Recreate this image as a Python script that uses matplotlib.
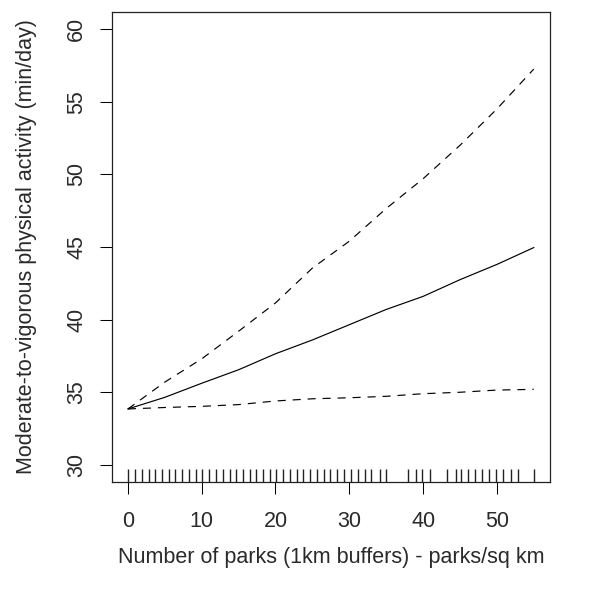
import matplotlib
matplotlib.use("Agg")
import matplotlib.pyplot as plt

plt.rcParams['font.family'] = ['Liberation Sans', 'DejaVu Sans']
plt.rcParams['lines.scale_dashes'] = False

# Smoothed fit of MVPA against park density, with pointwise confidence band
park_density = [0, 5, 10, 15, 20, 25, 30, 35, 40, 45, 50, 55]
mvpa_fit = [33.85, 34.65, 35.62, 36.55, 37.65, 38.6, 39.65, 40.7, 41.6, 42.75, 43.8, 44.96]
mvpa_upper = [33.85, 35.7, 37.3, 39.2, 41.15, 43.55, 45.4, 47.65, 49.7, 52.0, 54.5, 57.25]
mvpa_lower = [33.85, 33.95, 34.03, 34.15, 34.4, 34.55, 34.62, 34.72, 34.9, 35.0, 35.15, 35.2]

# Observed park densities (rug)
observed_density = [0, 1.0, 1.9, 2.8, 3.7, 4.6, 5.5, 6.4, 7.3, 8.3, 9.2, 10.1, 11.0,
                    11.9, 12.9, 13.8, 14.7, 15.6, 16.5, 17.4, 18.3, 19.2, 20.1, 21.0,
                    22.0, 22.9, 23.7, 24.7, 25.6, 26.6, 27.4, 28.4, 29.3, 30.2, 31.2,
                    32.1, 33.0, 34.1, 35.0, 37.9, 39.0, 39.8, 41.0, 43.3, 44.4, 45.1,
                    46.1, 47.1, 48.0, 49.0, 49.9, 50.8, 51.9, 52.9, 55.0]

x_ticks = [0, 10, 20, 30, 40, 50]
y_ticks = [30, 35, 40, 45, 50, 55, 60]

fig = plt.figure(figsize=(5.96, 5.92), dpi=100)
ax = fig.add_axes([0.1874, 0.1853, 0.9228 - 0.1874, 0.9802 - 0.1853])

dash = (0, (5.8, 5.0))
ax.plot(park_density, mvpa_fit, color='black', lw=0.85, solid_joinstyle='round')
ax.plot(park_density, mvpa_upper, color='black', lw=0.85, linestyle=dash)
ax.plot(park_density, mvpa_lower, color='black', lw=0.85, linestyle=dash)

ax.vlines(observed_density, 0, 0.028, transform=ax.get_xaxis_transform(),
          color='#222222', lw=1.0)

ax.set_xlim(-2.2, 57.2)
ax.set_ylim(28.8, 61.2)
ax.set_xticks(x_ticks)
ax.set_yticks(y_ticks)
ax.set_yticklabels([str(v) for v in y_ticks], rotation=90, va='center')

fs = 15.5
ax.tick_params(axis='both', direction='out', length=8.6, width=0.75,
               labelsize=fs, colors='black', labelcolor='#2a2a2a')
ax.tick_params(axis='x', pad=12)
ax.tick_params(axis='y', pad=9)
for s in ax.spines.values():
    s.set_linewidth(0.9)
    s.set_color('#222222')

ax.set_xlabel('Number of parks (1km buffers) - parks/sq km', fontsize=fs,
              color='#2a2a2a', labelpad=11)
ax.set_ylabel('Moderate-to-vigorous physical activity (min/day)', fontsize=fs,
              color='#2a2a2a', labelpad=21)

fig.savefig('out.png', dpi=100, facecolor='white')
